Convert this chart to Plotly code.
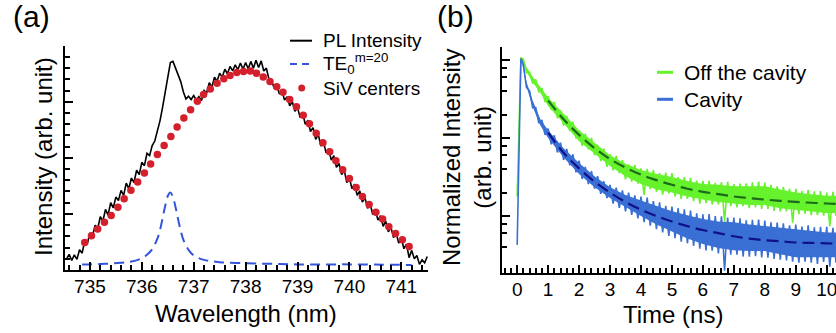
import numpy as np
import plotly.graph_objects as go

W, H = 836, 333

# ---------------- Panel (a) data ----------------
pl_wl = np.round(np.arange(734.55, 741.501, 0.05), 2)
pl_int = [0.20, 0.28, 0.17, 0.27, 0.19, 0.36, 0.30, 0.52, 0.47, 0.66,
          0.60, 0.80, 0.74, 0.95, 0.87, 1.08, 0.98, 1.20, 1.11, 1.30,
          1.24, 1.42, 1.33, 1.55, 1.45, 1.64, 1.56, 1.78, 1.70, 1.92,
          1.86, 2.08, 2.04, 2.22, 2.30, 2.47, 2.66, 2.90, 3.16, 3.46,
          3.70, 3.72, 3.61, 3.50, 3.36, 3.18, 3.05, 3.10, 3.04, 3.11,
          3.03, 3.09, 3.02, 3.20, 3.16, 3.34, 3.26, 3.44, 3.37, 3.51,
          3.44, 3.58, 3.50, 3.63, 3.55, 3.66, 3.57, 3.69, 3.58, 3.70,
          3.59, 3.72, 3.60, 3.74, 3.61, 3.73, 3.55, 3.60, 3.40, 3.38,
          3.24, 3.30, 3.14, 3.20, 3.03, 3.09, 2.93, 3.00, 2.83, 2.90,
          2.72, 2.79, 2.60, 2.67, 2.47, 2.54, 2.33, 2.42, 2.21, 2.29,
          2.09, 2.16, 1.96, 2.04, 1.83, 1.90, 1.70, 1.78, 1.56, 1.64,
          1.45, 1.53, 1.33, 1.41, 1.21, 1.29, 1.10, 1.18, 0.99, 1.07,
          0.89, 0.97, 0.78, 0.87, 0.68, 0.76, 0.58, 0.66, 0.48, 0.57,
          0.38, 0.46, 0.22, 0.35, 0.20, 0.26, 0.10, 0.18, 0.13, 0.24]

te_wl = [734.85, 735.0, 735.3, 735.6, 735.8, 736.0, 736.1, 736.2, 736.3, 736.35,
         736.4, 736.45, 736.5, 736.55, 736.6, 736.65, 736.7, 736.75, 736.8, 736.9,
         737.0, 737.2, 737.5, 738.0, 738.5, 739.0, 740.0, 741.2]
te_int = [0.10, 0.10, 0.11, 0.13, 0.15, 0.21, 0.27, 0.37, 0.56, 0.71,
          0.92, 1.14, 1.32, 1.38, 1.30, 1.12, 0.90, 0.70, 0.54, 0.36,
          0.26, 0.18, 0.14, 0.12, 0.11, 0.10, 0.10, 0.09]

siv_wl = [734.90, 735.03, 735.15, 735.28, 735.41, 735.54, 735.66, 735.79, 735.92, 736.05,
          736.17, 736.30, 736.43, 736.56, 736.68, 736.81, 736.94, 737.07, 737.19, 737.32,
          737.45, 737.58, 737.70, 737.83, 737.96, 738.09, 738.21, 738.34, 738.47, 738.60,
          738.72, 738.85, 738.98, 739.11, 739.23, 739.36, 739.49, 739.62, 739.74, 739.87,
          740.00, 740.13, 740.25, 740.38, 740.51, 740.64, 740.76, 740.89, 741.02, 741.15]
siv_int = [0.49, 0.61, 0.73, 0.85, 0.97, 1.12, 1.27, 1.42, 1.57, 1.73,
           1.89, 2.06, 2.22, 2.38, 2.55, 2.71, 2.86, 3.01, 3.13, 3.23,
           3.33, 3.41, 3.47, 3.52, 3.54, 3.55, 3.51, 3.44, 3.36, 3.27,
           3.17, 3.04, 2.91, 2.76, 2.61, 2.44, 2.27, 2.11, 1.95, 1.79,
           1.63, 1.47, 1.31, 1.17, 1.03, 0.91, 0.77, 0.65, 0.54, 0.42]

wl_ticks = [735, 736, 737, 738, 739, 740, 741]

# ---------------- Panel (b) data (log10 of normalized intensity) ----------------
rise_t = [0.0, 0.12]
green_rise_log = [-1.75, 0.03]
blue_rise_log = [-2.37, 0.02]

decay_t = np.round(np.arange(0.2, 10.301, 0.1), 2)
green_log = [0.01, -0.16, -0.155, -0.30, -0.25, -0.415, -0.36, -0.54, -0.465, -0.64,
             -0.54, -0.745, -0.645, -0.84, -0.715, -0.91, -0.79, -1.005, -0.90, -1.10,
             -0.945, -1.145, -1.00, -1.22, -1.09, -1.295, -1.135, -1.37, -1.21, -1.415,
             -1.23, -1.45, -1.285, -1.53, -1.34, -1.56, -1.345, -1.585, -1.39, -1.73,
             -1.395, -1.655, -1.41, -1.69, -1.45, -1.725, -1.445, -1.71, -1.45, -1.75,
             -1.50, -1.78, -1.50, -1.78, -1.51, -1.81, -1.545, -1.84, -1.55, -1.835,
             -1.55, -1.85, -1.575, -1.85, -1.565, -2.07, -1.56, -1.875, -1.59, -1.89,
             -1.585, -1.875, -1.58, -1.90, -1.57, -1.89, -1.56, -1.91, -1.57, -1.91,
             -1.60, -1.935, -1.62, -1.94, -1.625, -1.94, -1.65, -2.085, -1.65, -1.975,
             -1.68, -1.97, -1.665, -1.99, -1.685, -1.99, -1.68, -1.995, -1.70, -2.13,
             -1.69, -2.00]
blue_log = [-0.06, -0.35, -0.395, -0.61, -0.61, -0.81, -0.77, -0.96, -0.88, -1.08,
            -0.965, -1.185, -1.06, -1.28, -1.14, -1.35, -1.21, -1.44, -1.29, -1.525,
            -1.37, -1.59, -1.425, -1.65, -1.49, -1.715, -1.555, -1.77, -1.60, -1.84,
            -1.635, -1.895, -1.67, -1.94, -1.70, -1.985, -1.735, -2.03, -1.75, -2.08,
            -1.765, -2.125, -1.81, -2.17, -1.825, -2.21, -1.87, -2.255, -1.88, -2.285,
            -1.90, -2.33, -1.915, -2.35, -1.93, -2.385, -1.965, -2.42, -1.98, -2.44,
            -1.975, -2.445, -2.00, -2.48, -2.005, -2.70, -2.02, -2.495, -2.02, -2.495,
            -2.03, -2.52, -2.055, -2.52, -2.05, -2.515, -2.045, -2.53, -2.06, -2.535,
            -2.08, -2.55, -2.085, -2.56, -2.095, -2.57, -2.12, -2.585, -2.11, -2.60,
            -2.135, -2.585, -2.12, -2.60, -2.145, -2.615, -2.14, -2.59, -2.14, -2.65,
            -2.15, -2.60]

env_t = [0.15, 0.3, 0.5, 0.75, 1.0, 1.5, 2.0, 2.5, 3.0, 3.5, 4.0, 4.5,
         5.0, 5.5, 6.0, 6.5, 7.0, 7.5, 8.0, 8.5, 9.0, 9.5, 10.0, 10.3]
green_upper_log = [0.04, -0.09, -0.215, -0.34, -0.48, -0.69, -0.90, -1.06, -1.22, -1.33, -1.41, -1.46,
                   -1.50, -1.55, -1.59, -1.60, -1.62, -1.62, -1.62, -1.66, -1.70, -1.72, -1.74, -1.74]
green_lower_log = [0.00, -0.15, -0.285, -0.42, -0.59, -0.81, -1.04, -1.20, -1.36, -1.49, -1.59, -1.66,
                   -1.70, -1.75, -1.79, -1.82, -1.84, -1.86, -1.86, -1.90, -1.92, -1.94, -1.96, -1.96]
blue_upper_log = [0.02, -0.28, -0.52, -0.76, -0.90, -1.13, -1.32, -1.49, -1.63, -1.73, -1.80, -1.87,
                  -1.94, -1.99, -2.04, -2.07, -2.08, -2.11, -2.13, -2.15, -2.17, -2.19, -2.21, -2.21]
blue_lower_log = [-0.02, -0.34, -0.60, -0.84, -1.00, -1.25, -1.46, -1.63, -1.77, -1.89, -2.00, -2.11,
                  -2.20, -2.29, -2.36, -2.41, -2.44, -2.45, -2.45, -2.49, -2.53, -2.53, -2.53, -2.53]

fit_t = [1.0, 1.5, 2.0, 2.5, 3.0, 3.5, 4.0, 4.5, 5.0, 5.5, 6.0, 6.5, 7.0, 7.5,
         8.0, 8.5, 9.0, 9.5, 10.0, 10.3]
green_fit_log = [-0.52, -0.76, -0.96, -1.13, -1.27, -1.38, -1.47, -1.54, -1.60, -1.65,
                 -1.69, -1.72, -1.75, -1.77, -1.79, -1.805, -1.82, -1.83, -1.84, -1.845]
blue_fit_log = [-0.93, -1.19, -1.39, -1.56, -1.70, -1.82, -1.92, -2.00, -2.07, -2.13,
                -2.18, -2.22, -2.26, -2.29, -2.31, -2.325, -2.34, -2.345, -2.35, -2.355]

time_ticks = [0, 1, 2, 3, 4, 5, 6, 7, 8, 9, 10]
log_major = [0.01, 0.1, 1]
log_minor = [0.004, 0.006, 0.008, 0.02, 0.04, 0.06, 0.08, 0.2, 0.4, 0.6, 0.8]

# ---------------- styling ----------------
FONT = "Liberation Sans, Arial, sans-serif"
GREEN = "#66f22c"
BLUE = "#3a6fd4"
GREEN_FIT = "#1c6a1c"
BLUE_FIT = "#10108a"
RED = "#d41f2c"
TE_BLUE = "#3355dd"


def px_x(x):
    return x / W


def px_y(y):
    return (H - y) / H


def lin(v):
    return [10 ** a for a in v]


fig = go.Figure()

# Panel (a)
fig.add_trace(go.Scatter(x=pl_wl, y=pl_int, mode="lines", line=dict(color="black", width=1.6),
                         xaxis="x", yaxis="y", showlegend=False))
fig.add_trace(go.Scatter(x=te_wl, y=te_int, mode="lines", line=dict(color=TE_BLUE, width=2, dash="10px,6px", shape="spline"),
                         xaxis="x", yaxis="y", showlegend=False))
fig.add_trace(go.Scatter(x=siv_wl, y=siv_int, mode="markers", marker=dict(color=RED, size=7.5),
                         xaxis="x", yaxis="y", showlegend=False))

# Panel (b)
env_x = list(env_t) + list(env_t[::-1])
fig.add_trace(go.Scatter(x=env_x, y=lin(green_upper_log + green_lower_log[::-1]), fill="toself",
                         fillcolor=GREEN, line=dict(width=0), mode="lines",
                         xaxis="x2", yaxis="y2", showlegend=False, hoverinfo="skip"))
fig.add_trace(go.Scatter(x=list(rise_t) + list(decay_t), y=lin(green_rise_log + green_log), mode="lines",
                         line=dict(color=GREEN, width=1.6), xaxis="x2", yaxis="y2", showlegend=False))
fig.add_trace(go.Scatter(x=env_x, y=lin(blue_upper_log + blue_lower_log[::-1]), fill="toself",
                         fillcolor=BLUE, line=dict(width=0), mode="lines",
                         xaxis="x2", yaxis="y2", showlegend=False, hoverinfo="skip"))
fig.add_trace(go.Scatter(x=list(rise_t) + list(decay_t), y=lin(blue_rise_log + blue_log), mode="lines",
                         line=dict(color=BLUE, width=1.6), xaxis="x2", yaxis="y2", showlegend=False))
fig.add_trace(go.Scatter(x=fit_t, y=lin(green_fit_log), mode="lines",
                         line=dict(color=GREEN_FIT, width=2.2, dash="12px,6px", shape="spline"),
                         xaxis="x2", yaxis="y2", showlegend=False))
fig.add_trace(go.Scatter(x=fit_t, y=lin(blue_fit_log), mode="lines",
                         line=dict(color=BLUE_FIT, width=2.2, dash="12px,6px", shape="spline"),
                         xaxis="x2", yaxis="y2", showlegend=False))

axis_common = dict(showline=True, linecolor="black", linewidth=2, showgrid=False, zeroline=False,
                   ticks="inside", tickcolor="black", tickwidth=1.5, ticklen=8,
                   ticklabeloverflow="allow", ticklabelstandoff=-2,
                   tickfont=dict(family=FONT, size=19, color="black"))

fig.update_layout(
    width=W, height=H, margin=dict(l=0, r=0, t=0, b=0),
    paper_bgcolor="white", plot_bgcolor="white",
    font=dict(family=FONT, color="black"),
    xaxis=dict(axis_common, domain=[px_x(65), px_x(428.3)], range=[734.52, 741.52],
               tickmode="array", tickvals=wl_ticks, anchor="y",
               minor=dict(dtick=0.2, tick0=735, ticks="inside", ticklen=5, tickwidth=1.5, tickcolor="black")),
    yaxis=dict(axis_common, domain=[px_y(270), px_y(45.7)], range=[0, 4.0], dtick=1, tick0=0,
               showticklabels=False, anchor="x",
               minor=dict(dtick=0.2, tick0=0, ticks="inside", ticklen=5, tickwidth=1.5, tickcolor="black")),
    xaxis2=dict(axis_common, domain=[px_x(501.7), 1.0], range=[-0.5, 10.3],
                tickmode="array", tickvals=time_ticks, anchor="y2",
                minor=dict(dtick=0.2, tick0=0, ticks="inside", ticklen=5, tickwidth=1.5, tickcolor="black")),
    yaxis2=dict(axis_common, domain=[px_y(272.7), px_y(47)], type="log", range=[-2.727, 0.167],
                tickmode="array", tickvals=log_major, showticklabels=False, anchor="x2",
                minor=dict(tickmode="array", tickvals=log_minor, ticks="inside", ticklen=5,
                           tickwidth=1.5, tickcolor="black")),
)

ann = []
def text(x, y, s, size, xanchor="center", angle=0):
    ann.append(dict(x=px_x(x), y=px_y(y), xref="paper", yref="paper", text=s, showarrow=False,
                    xanchor=xanchor, yanchor="middle", textangle=angle,
                    font=dict(family=FONT, size=size, color="black")))

text(31, 17, "(a)", 30)
text(455, 17, "(b)", 30)
text(43, 157, "Intensity (arb. unit)", 24, angle=-90)
text(246, 313, "Wavelength (nm)", 24)
text(467, 158, "Normalized Intensity<br>(arb. unit)", 24, angle=-90)
text(672.5, 314, "Time (ns)", 24)
# legend (a)
text(321, 40.7, "PL Intensity", 19, xanchor="left")
text(321, 63.3, "TE<sub>0</sub><sup>m=20</sup>", 19, xanchor="left")
text(321, 88, "SiV centers", 19, xanchor="left")
# legend (b)
text(681.7, 72.3, "Off the cavity", 21, xanchor="left")
text(681.7, 99.3, "Cavity", 21, xanchor="left")
fig.update_layout(annotations=ann)

shapes = [
    dict(type="line", xref="paper", yref="paper", x0=px_x(290), x1=px_x(312), y0=px_y(40.7), y1=px_y(40.7),
         line=dict(color="black", width=2)),
    dict(type="line", xref="paper", yref="paper", x0=px_x(290), x1=px_x(312), y0=px_y(64), y1=px_y(64),
         line=dict(color=TE_BLUE, width=2, dash="7px,5px")),
    dict(type="circle", xref="paper", yref="paper", x0=px_x(298.2), x1=px_x(305.2), y0=px_y(91.5), y1=px_y(84.5),
         fillcolor=RED, line=dict(width=0)),
    dict(type="line", xref="paper", yref="paper", x0=px_x(657), x1=px_x(673), y0=px_y(72.3), y1=px_y(72.3),
         line=dict(color=GREEN, width=3)),
    dict(type="line", xref="paper", yref="paper", x0=px_x(657), x1=px_x(673), y0=px_y(99.3), y1=px_y(99.3),
         line=dict(color=BLUE, width=3)),
]
fig.update_layout(shapes=shapes)

fig.write_html("out.html", config={"displayModeBar": False},
               post_script="document.body.style.margin='0px';")
